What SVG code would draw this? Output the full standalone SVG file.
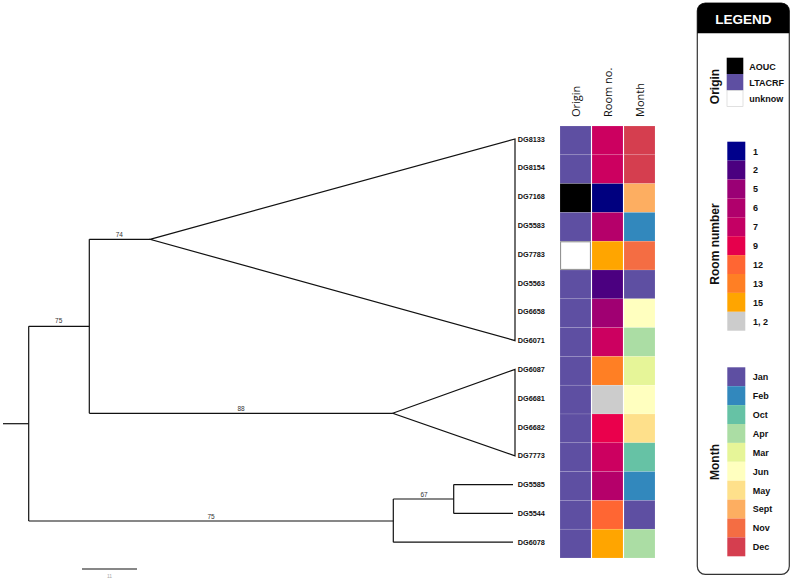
<svg xmlns="http://www.w3.org/2000/svg" width="792" height="581" viewBox="0 0 792 581">
<style>
.br{stroke:#111;stroke-width:1.2;fill:none}
.tri{stroke:#111;stroke-width:1.2;fill:none;stroke-linejoin:miter}
.tip{font-family:"Liberation Sans",Arial,sans-serif;font-weight:bold;font-size:7.3px;fill:#111}
.bs{font-family:"Liberation Sans",Arial,sans-serif;font-size:6.5px;fill:#333;text-anchor:middle}
.hd{font-family:"Open Sans","Liberation Sans",sans-serif;font-size:11px;fill:#111}
.lg{font-family:"Liberation Sans",Arial,sans-serif;font-weight:bold;font-size:9px;fill:#111}
.lt{font-family:"Liberation Sans",Arial,sans-serif;font-weight:bold;font-size:12px;fill:#111;text-anchor:middle}
.c rect{stroke:#fff;stroke-opacity:0.25;stroke-width:0.5}
</style>
<rect width="792" height="581" fill="#fff"/>

<g id="connectors">
  <line class="br" x1="3" y1="423.7" x2="28.7" y2="423.7"/>
  <line class="br" x1="28.7" y1="326.3" x2="28.7" y2="521"/>
  <line class="br" x1="28.7" y1="326.3" x2="89.3" y2="326.3"/>
  <line class="br" x1="89.3" y1="239.3" x2="89.3" y2="413.3"/>
  <line class="br" x1="89.3" y1="239.3" x2="150" y2="239.3"/>
  <line class="br" x1="89.3" y1="413.3" x2="392.7" y2="413.3"/>
  <line class="br" x1="28.7" y1="521" x2="393.3" y2="521"/>
  <line class="br" x1="393.3" y1="499" x2="393.3" y2="542.2"/>
  <line class="br" x1="393.3" y1="499" x2="453.7" y2="499"/>
  <line class="br" x1="453.7" y1="484.6" x2="453.7" y2="513.4"/>
  <line class="br" x1="453.7" y1="484.6" x2="513" y2="484.6"/>
  <line class="br" x1="453.7" y1="513.4" x2="513" y2="513.4"/>
  <line class="br" x1="393.3" y1="542.2" x2="513" y2="542.2"/>
  <polygon class="tri" points="150,239.3 515,139 515,340.6"/>
  <polygon class="tri" points="392.7,413.3 515,369.4 515,455.8"/>
  <line x1="82" y1="569" x2="137" y2="569" stroke="#111" stroke-width="1.2"/>
</g>

<g id="branch-labels">
  <text class="bs" x="119.3" y="236.5">74</text>
  <text class="bs" x="58.7" y="323">75</text>
  <text class="bs" x="241" y="410.5">88</text>
  <text class="bs" x="211" y="518.5">75</text>
  <text class="bs" x="424" y="496.5">67</text>
  <text x="109.5" y="577.5" font-family="Liberation Sans, Arial, sans-serif" font-size="5px" fill="#aaa" text-anchor="middle">11</text>
</g>

<g id="tips">
  <text class="tip" x="517.7" y="141.6">DG8133</text>
  <text class="tip" x="517.7" y="170.4">DG8154</text>
  <text class="tip" x="517.7" y="199.2">DG7168</text>
  <text class="tip" x="517.7" y="228">DG5583</text>
  <text class="tip" x="517.7" y="256.8">DG7783</text>
  <text class="tip" x="517.7" y="285.6">DG5563</text>
  <text class="tip" x="517.7" y="314.4">DG6658</text>
  <text class="tip" x="517.7" y="343.2">DG6071</text>
  <text class="tip" x="517.7" y="372">DG6087</text>
  <text class="tip" x="517.7" y="400.8">DG6681</text>
  <text class="tip" x="517.7" y="429.6">DG6682</text>
  <text class="tip" x="517.7" y="458.4">DG7773</text>
  <text class="tip" x="517.7" y="487.2">DG5585</text>
  <text class="tip" x="517.7" y="516">DG5544</text>
  <text class="tip" x="517.7" y="544.8">DG6078</text>
</g>

<g id="headers">
  <text class="hd" transform="translate(580,117) rotate(-90)">Origin</text>
  <text class="hd" transform="translate(612,117) rotate(-90)">Room no.</text>
  <text class="hd" transform="translate(644,117) rotate(-90)">Month</text>
</g>

<g id="heatmap-origin" class="c">
  <rect x="560" y="126" width="31" height="28.8" fill="#5e4fa2"/>
  <rect x="560" y="154.8" width="31" height="28.8" fill="#5e4fa2"/>
  <rect x="560" y="183.6" width="31" height="28.8" fill="#000"/>
  <rect x="560" y="212.4" width="31" height="28.8" fill="#5e4fa2"/>
  <rect x="560.6" y="241.8" width="29.8" height="27.6" fill="#fff" style="stroke:#888;stroke-opacity:1;stroke-width:1"/>
  <rect x="560" y="270" width="31" height="28.8" fill="#5e4fa2"/>
  <rect x="560" y="298.8" width="31" height="28.8" fill="#5e4fa2"/>
  <rect x="560" y="327.6" width="31" height="28.8" fill="#5e4fa2"/>
  <rect x="560" y="356.4" width="31" height="28.8" fill="#5e4fa2"/>
  <rect x="560" y="385.2" width="31" height="28.8" fill="#5e4fa2"/>
  <rect x="560" y="414" width="31" height="28.8" fill="#5e4fa2"/>
  <rect x="560" y="442.8" width="31" height="28.8" fill="#5e4fa2"/>
  <rect x="560" y="471.6" width="31" height="28.8" fill="#5e4fa2"/>
  <rect x="560" y="500.4" width="31" height="28.8" fill="#5e4fa2"/>
  <rect x="560" y="529.2" width="31" height="28.8" fill="#5e4fa2"/>
</g>

<g id="heatmap-room" class="c">
  <rect x="592" y="126" width="31" height="28.8" fill="#cc0060"/>
  <rect x="592" y="154.8" width="31" height="28.8" fill="#cc0060"/>
  <rect x="592" y="183.6" width="31" height="28.8" fill="#00007f"/>
  <rect x="592" y="212.4" width="31" height="28.8" fill="#b5006a"/>
  <rect x="592" y="241.2" width="31" height="28.8" fill="#ffa500"/>
  <rect x="592" y="270" width="31" height="28.8" fill="#4b0080"/>
  <rect x="592" y="298.8" width="31" height="28.8" fill="#a00072"/>
  <rect x="592" y="327.6" width="31" height="28.8" fill="#cc0060"/>
  <rect x="592" y="356.4" width="31" height="28.8" fill="#ff7f24"/>
  <rect x="592" y="385.2" width="31" height="28.8" fill="#cccccc"/>
  <rect x="592" y="414" width="31" height="28.8" fill="#ea004c"/>
  <rect x="592" y="442.8" width="31" height="28.8" fill="#cc0060"/>
  <rect x="592" y="471.6" width="31" height="28.8" fill="#b5006a"/>
  <rect x="592" y="500.4" width="31" height="28.8" fill="#ff6633"/>
  <rect x="592" y="529.2" width="31" height="28.8" fill="#ffa500"/>
</g>

<g id="heatmap-month" class="c">
  <rect x="624" y="126" width="31" height="28.8" fill="#d53e4f"/>
  <rect x="624" y="154.8" width="31" height="28.8" fill="#d53e4f"/>
  <rect x="624" y="183.6" width="31" height="28.8" fill="#fdae61"/>
  <rect x="624" y="212.4" width="31" height="28.8" fill="#3288bd"/>
  <rect x="624" y="241.2" width="31" height="28.8" fill="#f46d43"/>
  <rect x="624" y="270" width="31" height="28.8" fill="#5e4fa2"/>
  <rect x="624" y="298.8" width="31" height="28.8" fill="#ffffbf"/>
  <rect x="624" y="327.6" width="31" height="28.8" fill="#abdda4"/>
  <rect x="624" y="356.4" width="31" height="28.8" fill="#e6f598"/>
  <rect x="624" y="385.2" width="31" height="28.8" fill="#ffffbf"/>
  <rect x="624" y="414" width="31" height="28.8" fill="#fee08b"/>
  <rect x="624" y="442.8" width="31" height="28.8" fill="#66c2a5"/>
  <rect x="624" y="471.6" width="31" height="28.8" fill="#3288bd"/>
  <rect x="624" y="500.4" width="31" height="28.8" fill="#5e4fa2"/>
  <rect x="624" y="529.2" width="31" height="28.8" fill="#abdda4"/>
</g>

<g id="legend">
  <rect x="697.3" y="3" width="92" height="571.3" rx="8" fill="#fff" stroke="#333" stroke-width="1.2"/>
  <path d="M697.3,33.3 V11 A8,8 0 0 1 705.3,3 H781.3 A8,8 0 0 1 789.3,11 V33.3 Z" fill="#000"/>
  <text x="743.3" y="23.5" font-family="Liberation Sans, Arial, sans-serif" font-weight="bold" font-size="13.5px" fill="#fff" text-anchor="middle">LEGEND</text>

  <g id="legend-origin">
    <text class="lt" transform="translate(719,86.5) rotate(-90)">Origin</text>
    <rect x="726.7" y="57.7" width="16.6" height="16.3" fill="#000"/>
    <rect x="726.7" y="74" width="16.6" height="16.3" fill="#5e4fa2"/>
    <rect x="727" y="90.5" width="16" height="16" fill="#fff" stroke="#ccc" stroke-width="0.6"/>
    <text class="lg" x="749.3" y="69.5">AOUC</text>
    <text class="lg" x="749.3" y="85.5" font-size="8.3px">LTACRF</text>
    <text class="lg" x="749.3" y="101.5" font-size="8.3px">unknow</text>
  </g>

  <g id="legend-room">
    <text class="lt" transform="translate(719,244) rotate(-90)">Room number</text>
    <rect x="727.3" y="141.7" width="18" height="18.9" fill="#00008b"/>
    <rect x="727.3" y="160.6" width="18" height="18.9" fill="#4b0080"/>
    <rect x="727.3" y="179.5" width="18" height="18.9" fill="#9a0075"/>
    <rect x="727.3" y="198.4" width="18" height="18.9" fill="#b0006c"/>
    <rect x="727.3" y="217.3" width="18" height="18.9" fill="#c40064"/>
    <rect x="727.3" y="236.2" width="18" height="18.9" fill="#e6004c"/>
    <rect x="727.3" y="255.1" width="18" height="18.9" fill="#ff6633"/>
    <rect x="727.3" y="274" width="18" height="18.9" fill="#ff7f24"/>
    <rect x="727.3" y="292.9" width="18" height="18.9" fill="#ffa500"/>
    <rect x="727.3" y="311.8" width="18" height="18.9" fill="#cccccc"/>
    <text class="lg" x="753" y="154.5">1</text>
    <text class="lg" x="753" y="173.4">2</text>
    <text class="lg" x="753" y="192.3">5</text>
    <text class="lg" x="753" y="211.2">6</text>
    <text class="lg" x="753" y="230.1">7</text>
    <text class="lg" x="753" y="249">9</text>
    <text class="lg" x="753" y="267.9">12</text>
    <text class="lg" x="753" y="286.8">13</text>
    <text class="lg" x="753" y="305.7">15</text>
    <text class="lg" x="753" y="324.6">1, 2</text>
  </g>

  <g id="legend-month">
    <text class="lt" transform="translate(719,462) rotate(-90)">Month</text>
    <rect x="727.3" y="367.3" width="18" height="18.9" fill="#5e4fa2"/>
    <rect x="727.3" y="386.2" width="18" height="18.9" fill="#3288bd"/>
    <rect x="727.3" y="405.1" width="18" height="18.9" fill="#66c2a5"/>
    <rect x="727.3" y="424" width="18" height="18.9" fill="#abdda4"/>
    <rect x="727.3" y="442.9" width="18" height="18.9" fill="#e6f598"/>
    <rect x="727.3" y="461.8" width="18" height="18.9" fill="#ffffbf"/>
    <rect x="727.3" y="480.7" width="18" height="18.9" fill="#fee08b"/>
    <rect x="727.3" y="499.6" width="18" height="18.9" fill="#fdae61"/>
    <rect x="727.3" y="518.5" width="18" height="18.9" fill="#f46d43"/>
    <rect x="727.3" y="537.4" width="18" height="18.9" fill="#d53e4f"/>
    <text class="lg" x="752.7" y="380.1">Jan</text>
    <text class="lg" x="752.7" y="399">Feb</text>
    <text class="lg" x="752.7" y="417.9">Oct</text>
    <text class="lg" x="752.7" y="436.8">Apr</text>
    <text class="lg" x="752.7" y="455.7">Mar</text>
    <text class="lg" x="752.7" y="474.6">Jun</text>
    <text class="lg" x="752.7" y="493.5">May</text>
    <text class="lg" x="752.7" y="512.4">Sept</text>
    <text class="lg" x="752.7" y="531.3">Nov</text>
    <text class="lg" x="752.7" y="550.2">Dec</text>
  </g>
</g>
</svg>
